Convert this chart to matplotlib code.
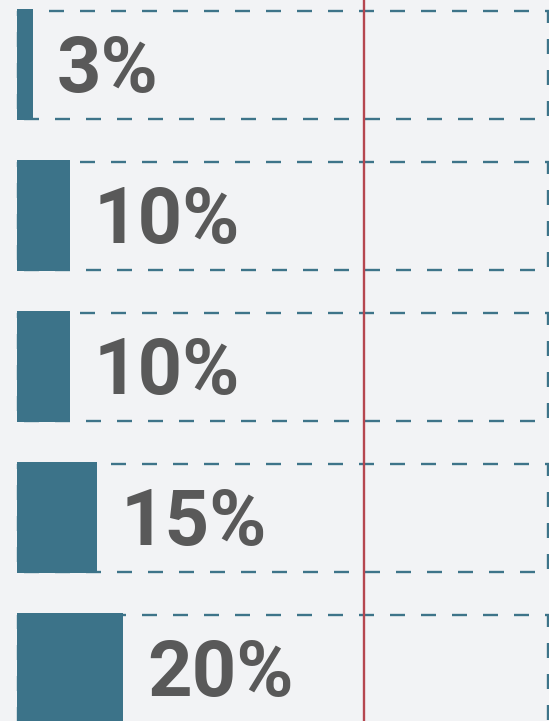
import matplotlib
matplotlib.use("Agg")
import matplotlib.pyplot as plt
from matplotlib.patches import Rectangle

# Data
categories = ["A", "B", "C", "D", "E"]
values = [3, 10, 10, 15, 20]
labels = ["3%", "10%", "10%", "15%", "20%"]
full_scale = 100
reference_value = 65.4

BG = "#f2f3f5"
BAR = "#3c7389"
DASH = "#3e7489"
TEXT = "#595959"
RED = "#b5464f"

W, H, DPI = 549, 721, 100
fig = plt.figure(figsize=(W / DPI, H / DPI), dpi=DPI, facecolor=BG)
ax = fig.add_axes([0, 0, 1, 1], facecolor=BG)

px_per_unit_x = 5.31
left_px = 17
ax.set_xlim(-left_px / px_per_unit_x, (W - left_px) / px_per_unit_x)

pitch = 151.0
row0_center = 64.5
ax.set_ylim((H - row0_center) / pitch, -row0_center / pitch)

bar_h = 111 / pitch
ys = list(range(len(categories)))

lw = 1.7
for y in ys:
    r = Rectangle((0.15, y - 108 / pitch / 2), full_scale - 0.15, 108 / pitch, fill=False,
                  edgecolor=DASH, linewidth=lw,
                  linestyle=(0, (15 * 0.72 / lw, 16 * 0.72 / lw)), zorder=1)
    ax.add_patch(r)

ax.barh(ys, values, height=bar_h, color=BAR, zorder=2, linewidth=0)

ax.axvline(reference_value, color=RED, linewidth=1.7, zorder=3)

for y, v, lab in zip(ys, values, labels):
    ax.annotate(lab, xy=(v, y), xytext=(17, -19.8), textcoords="offset points",
                ha="left", va="baseline", fontsize=56, fontweight="bold",
                color=TEXT, family=["Roboto", "DejaVu Sans"], zorder=4)

ax.axis("off")
fig.savefig("out.png", dpi=DPI, facecolor=BG)
